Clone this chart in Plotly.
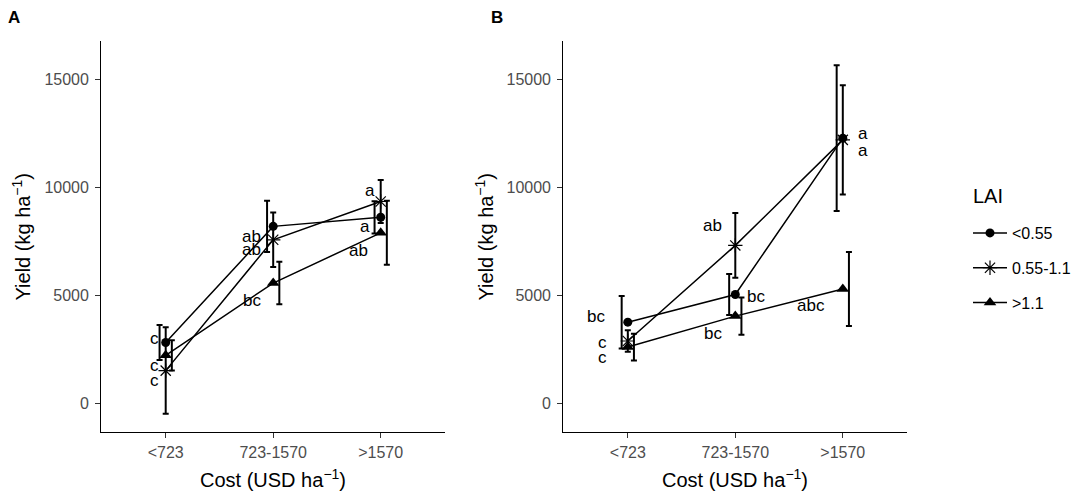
import plotly.graph_objects as go

# ---------------- data ----------------
categories = ["<723", "723-1570", ">1570"]
groups = ["<0.55", "0.55-1.1", ">1.1"]

# Panel A
a_low = [2830, 8200, 8620]
a_low_err = [810, 1180, 745]
a_mid = [1530, 7580, 9350]
a_mid_err = [2000, 1260, 990]
a_high = [2240, 5580, 7900]
a_high_err = [700, 980, 1480]

# Panel B
b_low = [3770, 5050, 12280]
b_low_err = [1215, 950, 3370]
b_mid = [2900, 7320, 12200]
b_mid_err = [500, 1500, 2525]
b_high = [2620, 4050, 5300]
b_high_err = [620, 865, 1710]

# significance letters: (text, x in category units, y)
a_letters = [("c", 0.894, 3020), ("c", 0.894, 1790), ("c", 0.894, 1090),
             ("ab", 1.80, 7720), ("ab", 1.80, 7110), ("bc", 1.80, 4790),
             ("a", 2.90, 9880), ("a", 2.854, 8180), ("ab", 2.79, 7070)]
b_letters = [("a", 3.186, 12500), ("a", 3.186, 11730),
             ("ab", 1.79, 8230), ("bc", 2.19, 4980), ("bc", 1.79, 3250),
             ("abc", 2.705, 4520), ("bc", 0.705, 4050),
             ("c", 0.761, 2840), ("c", 0.761, 2140)]

y_ticks = [0, 5000, 10000, 15000]
y_ticktext = ["0", "5000", "10000", "15000"]

# ---------------- styling ----------------
FONT = "Liberation Sans, Arial, sans-serif"
W, H = 1084, 499
xpos = [1, 2, 3]
dodge = [-0.057, 0.0, 0.057]
symbols = [dict(symbol="circle", size=9, color="black", line=dict(width=0)),
           dict(symbol="asterisk-open", size=12, color="black", line=dict(width=1.2, color="black")),
           dict(symbol="triangle-up", size=11, color="black", line=dict(width=0))]

fig = go.Figure()

panels = [
    ("x", "y", [a_low, a_mid, a_high], [a_low_err, a_mid_err, a_high_err], True),
    ("x2", "y2", [b_low, b_mid, b_high], [b_low_err, b_mid_err, b_high_err], False),
]

for xa, ya, vals, errs, show in panels:
    for i, g in enumerate(groups):
        fig.add_trace(go.Scatter(
            x=[p + dodge[i] for p in xpos], y=vals[i], xaxis=xa, yaxis=ya,
            mode="markers", marker=dict(size=1, color="rgba(0,0,0,0)"),
            error_y=dict(type="data", array=errs[i], visible=True,
                         color="black", thickness=2, width=3),
            showlegend=False, hoverinfo="skip"))
    for i, g in enumerate(groups):
        fig.add_trace(go.Scatter(
            x=xpos, y=vals[i], xaxis=xa, yaxis=ya, name=g,
            mode="lines+markers", line=dict(color="black", width=1.5),
            marker=symbols[i], legendgroup=g, showlegend=show,
            hoverinfo="skip"))

annotations = []
for letters, xr, yr in [(a_letters, "x", "y"), (b_letters, "x2", "y2")]:
    for t, lx, ly in letters:
        annotations.append(dict(text=t, x=lx, y=ly, xref=xr, yref=yr,
                                showarrow=False, font=dict(family=FONT, size=17, color="black")))

ytitle = "Yield (kg ha<sup>\u22121</sup>)"
xtitle = "Cost (USD ha<sup>\u22121</sup>)"
xdomA = [101.2 / W, 445.2 / W]
xdomB = [563.3 / W, 907.3 / W]
ydom = [1 - 432.3 / H, 1 - 40.7 / H]

for cx in [(xdomA[0] + xdomA[1]) / 2, (xdomB[0] + xdomB[1]) / 2]:
    annotations.append(dict(text=xtitle, x=cx, y=1 - 478 / H, xref="paper", yref="paper",
                            showarrow=False, xanchor="center", yanchor="middle",
                            font=dict(family=FONT, size=20, color="black")))
for px in [21, 484]:
    annotations.append(dict(text=ytitle, x=px / W, y=(ydom[0] + ydom[1]) / 2, xref="paper", yref="paper",
                            showarrow=False, textangle=-90, xanchor="center", yanchor="middle",
                            font=dict(family=FONT, size=20, color="black")))
for lab, px in [("<b>A</b>", 14), ("<b>B</b>", 497)]:
    annotations.append(dict(text=lab, x=px / W, y=1 - 17 / H, xref="paper", yref="paper",
                            showarrow=False, xanchor="center", yanchor="middle",
                            font=dict(family=FONT, size=17, color="black")))
# legend title
annotations.append(dict(text="LAI", x=971 / W, y=1 - 196 / H, xref="paper", yref="paper",
                        showarrow=False, xanchor="left", yanchor="middle",
                        font=dict(family=FONT, size=20, color="black")))

xaxis_common = dict(range=[0.4, 3.6], tickvals=xpos, ticktext=categories,
                    showline=True, linecolor="black", linewidth=1.2, mirror=False,
                    showgrid=False, zeroline=False, ticks="outside", ticklen=5,
                    tickcolor="#333333", tickwidth=1.2,
                    tickfont=dict(family=FONT, size=16, color="#4D4D4D"), fixedrange=True)
yaxis_common = dict(range=[-1322, 16785], tickvals=y_ticks, ticktext=y_ticktext,
                    showline=True, linecolor="black", linewidth=1.2, mirror=False,
                    showgrid=False, zeroline=False, ticks="outside", ticklen=5,
                    tickcolor="#333333", tickwidth=1.2, ticklabelstandoff=3,
                    tickfont=dict(family=FONT, size=16, color="#4D4D4D"), fixedrange=True)

fig.update_layout(
    width=W, height=H,
    margin=dict(l=0, r=0, t=0, b=0),
    paper_bgcolor="white", plot_bgcolor="white",
    font=dict(family=FONT, color="black"),
    xaxis=dict(domain=xdomA, anchor="y", **xaxis_common),
    yaxis=dict(domain=ydom, anchor="x", **yaxis_common),
    xaxis2=dict(domain=xdomB, anchor="y2", **xaxis_common),
    yaxis2=dict(domain=ydom, anchor="x2", **yaxis_common),
    annotations=annotations,
    legend=dict(x=968 / W, y=1 - 216 / H, xanchor="left", yanchor="top",
                font=dict(family=FONT, size=16, color="black"),
                itemwidth=34, tracegroupgap=11, bgcolor="rgba(0,0,0,0)"),
    showlegend=True,
)

fig.write_html("out.html", config={"displayModeBar": False},
               post_script="document.body.style.margin='0px';")
